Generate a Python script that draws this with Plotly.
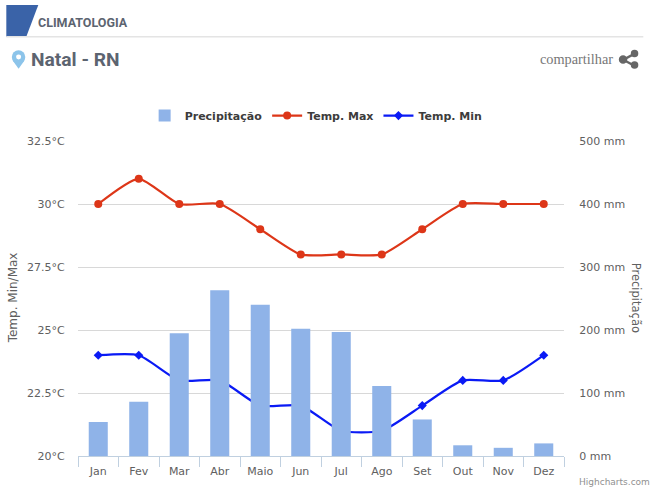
import plotly.graph_objects as go

months = ["Jan", "Fev", "Mar", "Abr", "Maio", "Jun", "Jul", "Ago", "Set", "Out", "Nov", "Dez"]
precipitation = [54, 86, 195, 263, 240, 202, 197, 111, 58, 17, 13, 20]
temp_max = [30, 31, 30, 30, 29, 28, 28, 28, 29, 30, 30, 30]
temp_min = [24, 24, 23, 23, 22, 22, 21, 21, 22, 23, 23, 24]
temp_ticks = [20, 22.5, 25, 27.5, 30, 32.5]
temp_labels = ["20°C", "22.5°C", "25°C", "27.5°C", "30°C", "32.5°C"]
rain_ticks = [0, 100, 200, 300, 400, 500]
rain_labels = ["0 mm", "100 mm", "200 mm", "300 mm", "400 mm", "500 mm"]

W, H = 655, 493
L, R, T, B = 77.7, 563.7, 140.5, 456.5


def px(x):
    return (x - L) / (R - L)


def py(y):
    return (B - y) / (B - T)


def path(points):
    return "M " + " L ".join(f"{px(x):.4f},{py(y):.4f}" for x, y in points) + " Z"


TICK_FONT = dict(family="DejaVu Sans, sans-serif", size=11, color="#606060")

fig = go.Figure()
fig.add_bar(x=months, y=precipitation, name="Precipitação", yaxis="y2",
            marker=dict(color="#8FB3E8", line_width=0), width=0.47)
fig.add_scatter(x=months, y=temp_max, name="Temp. Max", mode="lines+markers",
                line=dict(color="#DD3618", width=2.2, shape="spline", smoothing=0.6),
                marker=dict(color="#DD3618", symbol="circle", size=8))
fig.add_scatter(x=months, y=temp_min, name="Temp. Min", mode="lines+markers",
                line=dict(color="#0A1AF5", width=2.2, shape="spline", smoothing=0.6),
                marker=dict(color="#0A1AF5", symbol="diamond", size=7))

shapes = [
    dict(type="path", path=path([(6, 4), (38, 4), (26, 36), (6, 36)]),
         fillcolor="#3A63A8", line_width=0),
    dict(type="line", x0=px(6), x1=px(643), y0=py(36), y1=py(36),
         line=dict(color="#E4E4E4", width=1.5)),
    # location pin
    dict(type="circle", x0=px(11.5), x1=px(25), y0=py(49.5), y1=py(63),
         fillcolor="#8CC4EA", line_width=0),
    dict(type="path", path=path([(12.5, 60), (24, 60), (18.3, 68)]),
         fillcolor="#8CC4EA", line_width=0),
    dict(type="circle", x0=px(15.8), x1=px(20.8), y0=py(53.7), y1=py(58.7),
         fillcolor="#FFFFFF", line_width=0),
    # share icon
    dict(type="line", x0=px(623), x1=px(634), y0=py(59), y1=py(53),
         line=dict(color="#666666", width=2.5)),
    dict(type="line", x0=px(623), x1=px(634), y0=py(59), y1=py(65),
         line=dict(color="#666666", width=2.5)),
    dict(type="circle", x0=px(618.5), x1=px(627), y0=py(54.5), y1=py(63),
         fillcolor="#666666", line_width=0),
    dict(type="circle", x0=px(630.5), x1=px(638), y0=py(49), y1=py(56.5),
         fillcolor="#666666", line_width=0),
    dict(type="circle", x0=px(630.5), x1=px(638), y0=py(60.5), y1=py(68),
         fillcolor="#666666", line_width=0),
]
for s in shapes:
    s.update(xref="paper", yref="paper")


def label(text, x, y, **kw):
    base = dict(xref="paper", yref="paper", x=px(x), y=py(y), text=text, showarrow=False,
                xanchor="left", yanchor="middle", borderpad=0)
    base.update(kw)
    return base


annotations = [
    label("CLIMATOLOGIA", 37, 22, font=dict(family="Roboto, sans-serif", size=12.5, weight=700, color="#5C6470")),
    label("Natal - RN", 30, 59, font=dict(family="Roboto, sans-serif", size=19.2, weight=700, color="#5C6470")),
    label("compartilhar", 539, 58.5, font=dict(family="Liberation Serif, serif", size=14.3, color="#777777")),
    label("Temp. Min/Max", 13, 298, xanchor="center", textangle=-90,
          font=dict(family="DejaVu Sans, sans-serif", size=12, color="#606060")),
    label("Precipitação", 636, 298, xanchor="center", textangle=90,
          font=dict(family="DejaVu Sans, sans-serif", size=11.5, color="#606060")),
    label("Highcharts.com", 578, 483, font=dict(family="DejaVu Sans, sans-serif", size=9, color="#909090")),
]

fig.update_layout(
    width=W, height=H, autosize=False,
    margin=dict(l=L, r=W - R, t=T, b=H - B),
    paper_bgcolor="#FFFFFF", plot_bgcolor="#FFFFFF",
    font=TICK_FONT,
    shapes=shapes, annotations=annotations,
    showlegend=True,
    legend=dict(orientation="h", x=0.49, xanchor="center", y=py(115), yanchor="middle",
                font=dict(family="DejaVu Sans, sans-serif", size=11, weight=700, color="#3C3C3C"),
                itemsizing="trace", traceorder="normal"),
    xaxis=dict(type="category", categoryorder="array", categoryarray=months,
               tickson="boundaries", ticks="outside", ticklen=10, tickcolor="#C0D0E0", tickwidth=1,
               showline=True, linecolor="#C0D0E0", linewidth=1, showgrid=False, zeroline=False,
               tickfont=TICK_FONT, range=[-0.5, 11.5], ticklabelstandoff=5),
    yaxis=dict(range=[20, 32.5], tickvals=temp_ticks, ticktext=temp_labels, gridcolor="#D8D8D8",
               gridwidth=1, zeroline=False, tickfont=TICK_FONT, ticks="outside", ticklen=10,
               tickcolor="rgba(0,0,0,0)"),
    yaxis2=dict(range=[0, 500], tickvals=rain_ticks, ticktext=rain_labels, overlaying="y", side="right",
                showgrid=False, zeroline=False, tickfont=TICK_FONT, ticks="outside", ticklen=12,
                tickcolor="rgba(0,0,0,0)"),
)
fig.write_html("out.html", config={"displayModeBar": False},
               post_script="document.body.style.margin='0';")
